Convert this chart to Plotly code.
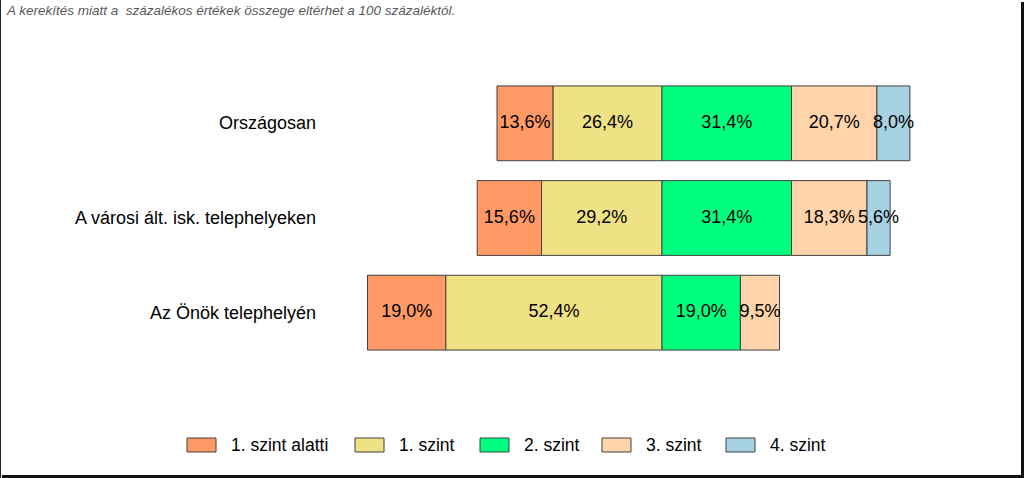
import plotly.graph_objects as go

categories = ["Országosan", "A városi ált. isk. telephelyeken", "Az Önök telephelyén"]
series_names = ["1. szint alatti", "1. szint", "2. szint", "3. szint", "4. szint"]
colors = ["#FF9966", "#EEE285", "#00FF7F", "#FFD4AA", "#A6D2E4"]
below1 = [13.6, 15.6, 19.0]
level1 = [26.4, 29.2, 52.4]
level2 = [31.4, 31.4, 19.0]
level3 = [20.7, 18.3, 9.5]
level4 = [8.0, 5.6, None]
note = "A kerekítés miatt a  százalékos értékek összege eltérhet a 100 százaléktól."

W, H = 1024, 478
mt, mb = 76, 118
ph = H - mt - mb
xr = [-662 / 4.125, (W - 662) / 4.125]
FONT = "Liberation Sans, Arial"

series = [below1, level1, level2, level3, level4]
fig = go.Figure()
label_x, label_y, label_t = [], [], []
for si, (name, vals, col) in enumerate(zip(series_names, series, colors)):
    bases, widths, ys = [], [], []
    for ci, cat in enumerate(categories):
        v = vals[ci]
        if v is None:
            continue
        if si == 0:
            b = -(below1[ci] + level1[ci])
        elif si == 1:
            b = -level1[ci]
        else:
            b = sum((series[k][ci] or 0) for k in range(2, si))
        bases.append(b)
        widths.append(v)
        ys.append(cat)
        label_x.append(b + v / 2)
        label_y.append(cat)
        label_t.append(f"{v:.1f}%".replace(".", ","))
    fig.add_trace(go.Bar(
        y=ys, x=widths, base=bases, orientation="h", name=name,
        marker=dict(color=col, line=dict(color="#404040", width=1)),
        width=0.79, showlegend=False, hoverinfo="skip",
    ))

fig.add_trace(go.Scatter(
    x=label_x, y=label_y, text=label_t, mode="text",
    textfont=dict(family=FONT, size=18, color="#000"),
    showlegend=False, hoverinfo="skip",
))

annotations = []
for cat in categories:
    annotations.append(dict(
        x=(318 - 662) / 4.125, y=cat, xref="x", yref="y", text=cat,
        showarrow=False, xanchor="right", yanchor="middle",
        font=dict(family=FONT, size=18, color="#000"),
    ))
annotations.append(dict(
    x=4 / W, y=1 + (mt - 11) / ph, xref="paper", yref="paper", text=f"<i>{note}</i>",
    showarrow=False, xanchor="left", yanchor="middle",
    font=dict(family=FONT, size=13.5, color="#595959"),
))

shapes = []
leg_sw = [187, 355, 480, 602, 726]
leg_y = 445
def py(p):
    return 1 - (p - mt) / ph
for x0, name, col in zip(leg_sw, series_names, colors):
    shapes.append(dict(type="rect", xref="paper", yref="paper",
                       x0=x0 / W, x1=(x0 + 29) / W, y0=py(leg_y + 7), y1=py(leg_y - 7),
                       fillcolor=col, line=dict(color="#404040", width=1)))
    annotations.append(dict(x=(x0 + 42) / W, y=py(leg_y), xref="paper", yref="paper",
                            text=name, showarrow=False, xanchor="left", yanchor="middle",
                            font=dict(family=FONT, size=17.5, color="#000")))

# frame
shapes.append(dict(type="line", xref="paper", yref="paper", x0=0.5 / W, x1=0.5 / W,
                   y0=py(0), y1=py(H), line=dict(color="#222", width=1)))
shapes.append(dict(type="line", xref="paper", yref="paper", x0=(W - 1.5) / W, x1=(W - 1.5) / W,
                   y0=py(2), y1=py(H), line=dict(color="#111", width=3)))
shapes.append(dict(type="line", xref="paper", yref="paper", x0=2 / W, x1=1,
                   y0=py(H - 1.5), y1=py(H - 1.5), line=dict(color="#111", width=3)))

fig.update_layout(
    width=W, height=H, barmode="overlay",
    margin=dict(l=0, r=0, t=mt, b=mb),
    paper_bgcolor="white", plot_bgcolor="white",
    xaxis=dict(range=xr, visible=False, fixedrange=True),
    yaxis=dict(type="category", categoryarray=categories, range=[2.5, -0.5],
               visible=False, fixedrange=True),
    annotations=annotations, shapes=shapes,
)
fig.write_html("out.html", config={"displayModeBar": False})
